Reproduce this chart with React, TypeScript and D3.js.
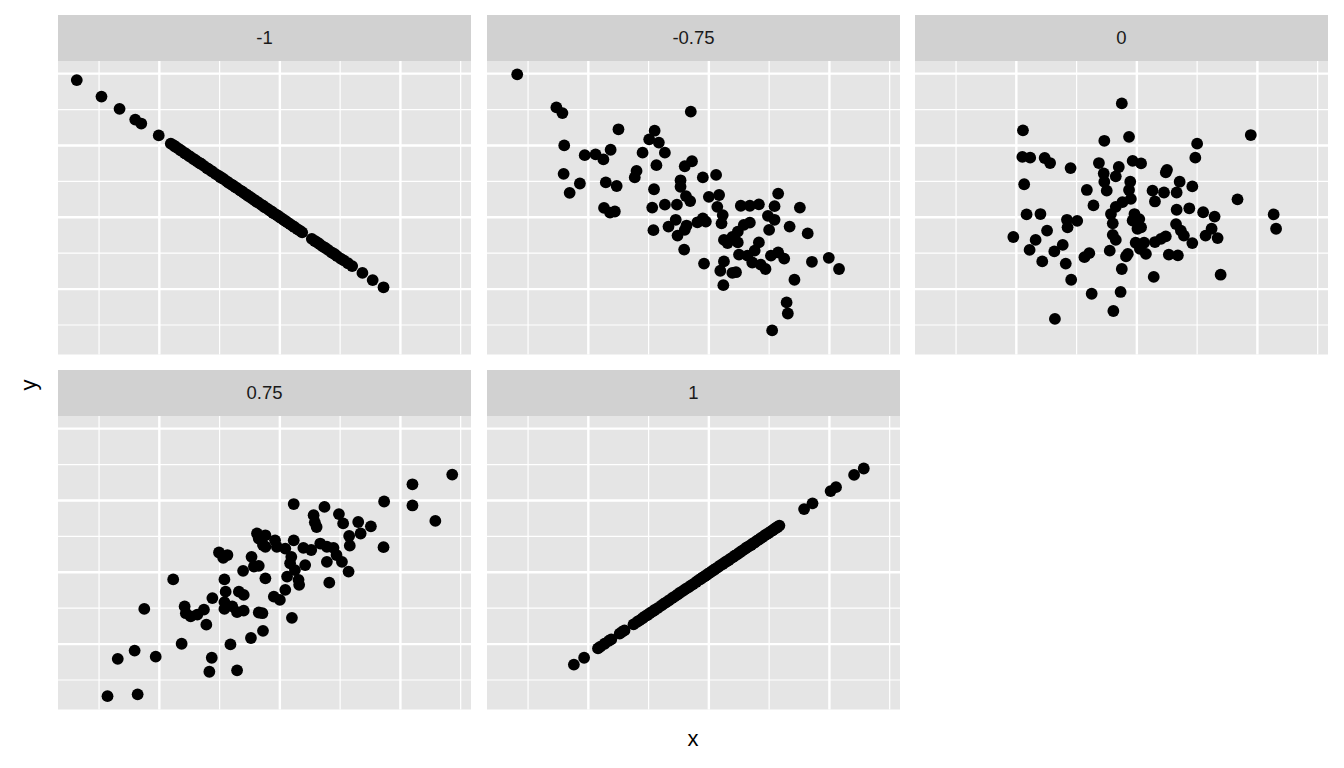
import React from "react";
import * as d3 from "d3";

// Facet labels (correlation of each panel)
const FACET_LABELS = ["-1", "-0.75", "0", "0.75", "1"];

// Grid breaks (no tick labels are shown in the reference)
const X_MAJOR = [-2, 0, 2];
const X_MINOR = [-3, -1, 1, 3];
const Y_MAJOR = [-2, 0, 2, 4];
const Y_MINOR = [-3, -1, 1, 3];

// Panel "-1"
const rhoNeg100: [number, number][] = [
  [-3.37, 3.82], [-2.96, 3.36], [-2.66, 3.02], [-2.4, 2.72], [-2.3, 2.61], [-2.01, 2.28],
  [-1.81, 2.05], [-1.76, 2.0], [-1.74, 1.97], [-1.69, 1.92], [-1.65, 1.87], [-1.63, 1.85],
  [-1.58, 1.79], [-1.55, 1.76], [-1.51, 1.71], [-1.49, 1.69], [-1.44, 1.63], [-1.4, 1.59],
  [-1.37, 1.55], [-1.33, 1.51], [-1.31, 1.49], [-1.26, 1.43], [-1.21, 1.37], [-1.19, 1.35],
  [-1.14, 1.29], [-1.12, 1.27], [-1.07, 1.21], [-1.02, 1.16], [-0.99, 1.12], [-0.97, 1.1],
  [-0.93, 1.06], [-0.88, 1.0], [-0.85, 0.96], [-0.8, 0.91], [-0.78, 0.89], [-0.74, 0.84],
  [-0.71, 0.81], [-0.66, 0.75], [-0.63, 0.72], [-0.6, 0.68], [-0.56, 0.64], [-0.53, 0.6],
  [-0.49, 0.56], [-0.46, 0.52], [-0.42, 0.48], [-0.39, 0.44], [-0.36, 0.41], [-0.31, 0.35],
  [-0.28, 0.32], [-0.25, 0.28], [-0.21, 0.24], [-0.17, 0.19], [-0.14, 0.16], [-0.11, 0.12],
  [-0.07, 0.08], [-0.04, 0.05], [0.0, 0.0], [0.03, -0.03], [0.06, -0.07], [0.1, -0.11],
  [0.13, -0.15], [0.17, -0.19], [0.21, -0.24], [0.24, -0.27], [0.29, -0.33], [0.33, -0.37],
  [0.37, -0.42], [0.53, -0.6], [0.58, -0.66], [0.62, -0.7], [0.66, -0.75], [0.71, -0.81],
  [0.75, -0.85], [0.8, -0.91], [0.86, -0.98], [0.91, -1.03], [0.95, -1.08], [1.01, -1.15],
  [1.06, -1.2], [1.13, -1.28], [1.2, -1.36], [1.37, -1.55], [1.54, -1.75], [1.72, -1.95],
];

// Panel "-0.75"
const rhoNeg075: [number, number][] = [
  [-3.18, 3.98], [-2.53, 3.06], [-2.43, 2.9], [-1.5, 2.45], [-0.3, 2.94], [-2.4, 2.0],
  [-2.06, 1.73], [-1.88, 1.75], [-1.75, 1.61], [-1.63, 1.88], [-0.9, 2.41], [-0.99, 2.17],
  [-0.83, 2.08], [-0.73, 1.8], [-1.1, 1.8], [-0.87, 1.45], [-1.2, 1.29], [-1.23, 1.11],
  [-2.41, 1.21], [-2.14, 0.94], [-2.31, 0.68], [-1.71, 0.97], [-1.53, 0.87], [-0.91, 0.78],
  [-1.74, 0.26], [-1.64, 0.13], [-1.56, 0.16], [-0.94, 0.27], [-0.73, 0.35], [-0.53, 0.35],
  [-0.92, -0.36], [-0.67, -0.26], [-0.55, -0.07], [-0.52, -0.51], [-0.4, -0.35], [-0.37, -0.23],
  [-0.41, -0.9], [-0.4, 1.42], [-0.28, 1.56], [-0.47, 1.03], [-0.47, 0.85], [-0.38, 0.59],
  [-0.31, 0.45], [-0.19, -0.14], [-0.1, 1.11], [0.12, 1.18], [0.0, 0.57], [0.17, 0.62],
  [0.14, 0.29], [0.23, 0.06], [0.21, -0.17], [-0.05, -0.12], [-0.1, -0.03], [0.53, 0.32],
  [0.68, 0.32], [0.83, 0.36], [1.15, 0.66], [1.09, 0.31], [1.51, 0.27], [0.98, 0.04],
  [1.09, -0.07], [1.0, -0.35], [1.34, -0.26], [1.64, -0.45], [0.68, -0.15], [0.58, -0.21],
  [0.48, -0.4], [0.39, -0.55], [0.25, -0.63], [0.31, -0.72], [0.48, -0.7], [0.83, -0.7],
  [0.76, -0.93], [0.5, -1.04], [0.64, -1.07], [1.03, -1.07], [1.15, -0.98], [1.25, -1.15],
  [0.25, -1.23], [-0.08, -1.29], [0.19, -1.49], [0.39, -1.55], [0.45, -1.53], [0.72, -1.26],
  [0.86, -1.32], [0.94, -1.44], [0.24, -1.89], [1.42, -1.74], [1.71, -1.24], [1.99, -1.13],
  [2.16, -1.44], [1.29, -2.37], [1.31, -2.68], [1.05, -3.15],
];

// Panel "0"
const rho000: [number, number][] = [
  [-0.25, 3.17], [-1.89, 2.42], [-0.54, 2.13], [-0.13, 2.24], [-1.9, 1.68], [-1.77, 1.66],
  [-1.53, 1.65], [-1.44, 1.51], [-1.1, 1.37], [-0.63, 1.51], [-0.3, 1.4], [-0.35, 1.14],
  [-0.55, 1.22], [-0.54, 0.99], [-0.5, 0.74], [-1.87, 0.92], [-0.83, 0.76], [-0.72, 0.33],
  [-1.83, 0.08], [-1.6, 0.09], [-1.16, -0.07], [-0.99, -0.1], [-1.15, -0.28], [-1.49, -0.37],
  [-2.05, -0.55], [-1.68, -0.63], [-1.23, -0.77], [-1.37, -0.95], [-1.78, -0.91], [-1.57, -1.23],
  [-1.18, -1.29], [-1.09, -1.74], [-0.79, -1.0], [-0.87, -1.11], [-0.45, -0.93], [-0.4, -0.49],
  [-0.35, -0.63], [-0.43, 0.09], [-0.4, -0.17], [-0.35, 0.29], [-0.25, -1.44], [-0.27, -2.08],
  [-0.75, -2.13], [-0.39, -2.61], [-1.36, -2.83], [-0.18, -1.09], [-0.07, 1.57], [0.07, 1.5],
  [0.5, 1.32], [0.48, 1.25], [0.97, 1.66], [1.0, 2.05], [1.89, 2.29], [-0.11, 0.99],
  [-0.13, 0.76], [-0.1, 0.51], [0.26, 0.74], [0.45, 0.69], [0.3, 0.44], [0.71, 0.99],
  [0.66, 0.69], [0.92, 0.86], [-0.24, 0.42], [-0.04, 0.09], [0.04, -0.05], [-0.07, -0.09],
  [0.07, -0.28], [0.01, -0.32], [0.66, 0.21], [0.87, 0.25], [1.1, 0.14], [1.29, 0.02],
  [0.65, -0.19], [0.73, -0.37], [0.78, -0.51], [1.24, -0.32], [1.14, -0.51], [1.34, -0.58],
  [0.92, -0.72], [-0.02, -0.71], [0.12, -0.71], [0.15, -1.02], [0.05, -0.88], [0.3, -0.69],
  [0.48, -0.53], [0.4, -0.6], [0.53, -1.04], [0.68, -1.06], [-0.15, -1.02], [0.28, -1.66],
  [1.39, -1.6], [1.67, 0.5], [2.27, 0.08], [2.31, -0.32],
];

// Panel "0.75"
const rho075: [number, number][] = [
  [-0.38, 1.08], [-0.35, 0.94], [-0.28, 0.76], [-1.01, 0.55], [-0.87, 0.48], [-0.94, 0.4],
  [-0.47, 0.43], [-0.35, 0.18], [-0.43, 0.16], [-0.61, 0.04], [-0.24, -0.17], [-1.77, -0.2],
  [-0.92, -0.2], [-0.9, -0.54], [-0.68, -0.54], [-0.6, -0.63], [-1.12, -0.72], [-2.25, -1.02],
  [-1.58, -0.95], [-1.56, -1.14], [-1.48, -1.23], [-1.37, -1.18], [-1.26, -1.04], [-0.92, -1.02],
  [-0.79, -0.95], [-0.71, -1.11], [-0.6, -1.07], [-0.35, -1.12], [-0.29, -1.14], [-1.22, -1.46],
  [-0.28, -1.63], [-0.48, -1.83], [-1.63, -1.99], [-0.82, -2.01], [-2.41, -2.18], [-2.69, -2.41],
  [-2.06, -2.35], [-1.13, -2.38], [-1.17, -2.77], [-0.71, -2.73], [-2.86, -3.45], [-2.36, -3.4],
  [2.86, 2.72], [2.2, 2.45], [2.2, 1.86], [1.73, 1.97], [2.58, 1.43], [0.23, 1.9],
  [0.74, 1.82], [0.56, 1.59], [0.58, 1.39], [0.61, 1.26], [0.98, 1.62], [1.05, 1.36],
  [1.3, 1.4], [1.34, 1.08], [1.15, 1.01], [1.51, 1.28], [1.16, 0.74], [1.72, 0.7],
  [-0.24, 1.03], [-0.24, 0.71], [-0.08, 0.89], [-0.05, 0.71], [0.09, 0.66], [0.23, 0.89],
  [0.39, 0.68], [0.52, 0.62], [0.67, 0.8], [0.78, 0.71], [0.89, 0.68], [0.94, 0.48],
  [1.03, 0.29], [0.78, 0.29], [1.14, 0.02], [0.19, 0.43], [0.17, 0.25], [0.25, 0.06],
  [0.42, 0.2], [0.12, -0.12], [0.31, -0.21], [0.32, -0.35], [0.82, -0.29], [0.09, -0.49],
  [-0.1, -0.68], [0.0, -0.77], [0.2, -1.27], [-0.92, -0.83],
];

// Panel "1"
const rhoPos100: [number, number][] = [
  [-2.24, -2.57], [-2.07, -2.38], [-1.84, -2.12], [-1.8, -2.07], [-1.73, -1.99], [-1.66, -1.91],
  [-1.62, -1.87], [-1.48, -1.71], [-1.44, -1.66], [-1.4, -1.62], [-1.25, -1.45], [-1.19, -1.38],
  [-1.15, -1.34], [-1.1, -1.28], [-1.06, -1.23], [-1.02, -1.19], [-0.98, -1.14], [-0.93, -1.09],
  [-0.9, -1.05], [-0.85, -1.0], [-0.79, -0.93], [-0.75, -0.88], [-0.71, -0.84], [-0.66, -0.78],
  [-0.61, -0.72], [-0.57, -0.68], [-0.52, -0.62], [-0.48, -0.57], [-0.43, -0.52], [-0.39, -0.47],
  [-0.34, -0.42], [-0.3, -0.37], [-0.26, -0.33], [-0.21, -0.27], [-0.17, -0.22], [-0.13, -0.18],
  [-0.1, -0.14], [-0.07, -0.11], [-0.04, -0.08], [-0.01, -0.04], [0.02, -0.01], [0.05, 0.03],
  [0.09, 0.07], [0.12, 0.11], [0.16, 0.15], [0.19, 0.19], [0.23, 0.23], [0.27, 0.28],
  [0.3, 0.31], [0.33, 0.34], [0.36, 0.38], [0.4, 0.42], [0.43, 0.46], [0.47, 0.5],
  [0.5, 0.54], [0.53, 0.57], [0.56, 0.61], [0.6, 0.65], [0.63, 0.69], [0.66, 0.72],
  [0.7, 0.76], [0.73, 0.8], [0.76, 0.83], [0.8, 0.88], [0.83, 0.91], [0.86, 0.95],
  [0.89, 0.98], [0.93, 1.03], [0.96, 1.06], [0.99, 1.09], [1.03, 1.14], [1.06, 1.17],
  [1.09, 1.21], [1.12, 1.24], [1.14, 1.26], [1.17, 1.3], [1.58, 1.76], [1.72, 1.92],
  [2.02, 2.26], [2.11, 2.37], [2.41, 2.71], [2.57, 2.89],
];

const PANEL_DATA = [rhoNeg100, rhoNeg075, rho000, rho075, rhoPos100];

// Layout
const W = 1344;
const H = 768;
const COL_X = [58, 487, 915];
const ROW_Y = [15, 370];
const PANEL_W = 413;
const STRIP_H = 46;
const PANEL_H = 293.5;
const FONT = "'Liberation Sans', Arial, Helvetica, sans-serif";

function expanded(vals: number[]): [number, number] {
  const [lo, hi] = d3.extent(vals) as [number, number];
  const pad = (hi - lo) * 0.05;
  return [lo - pad, hi + pad];
}

export default function App() {
  const all = PANEL_DATA.flat();
  const x = d3.scaleLinear().domain(expanded(all.map((d) => d[0]))).range([0, PANEL_W]);
  const y = d3.scaleLinear().domain(expanded(all.map((d) => d[1]))).range([PANEL_H, 0]);

  const panels = PANEL_DATA.map((data, i) => {
    const col = i % 3;
    const row = Math.floor(i / 3);
    const left = COL_X[col];
    const top = ROW_Y[row];
    return (
      <g key={i} transform={`translate(${left},${top})`}>
        <rect x={0} y={0} width={PANEL_W} height={STRIP_H} fill="#D1D1D1" />
        <text
          x={PANEL_W / 2}
          y={STRIP_H / 2}
          dy="0.35em"
          textAnchor="middle"
          fontSize={18.5}
          fontFamily={FONT}
          fill="#1A1A1A"
        >
          {FACET_LABELS[i]}
        </text>
        <g transform={`translate(0,${STRIP_H})`}>
          <rect x={0} y={0} width={PANEL_W} height={PANEL_H} fill="#E5E5E5" />
          {X_MINOR.map((v) => (
            <line key={`xm${v}`} x1={x(v)} x2={x(v)} y1={0} y2={PANEL_H} stroke="#fff" strokeWidth={1.2} />
          ))}
          {Y_MINOR.map((v) => (
            <line key={`ym${v}`} x1={0} x2={PANEL_W} y1={y(v)} y2={y(v)} stroke="#fff" strokeWidth={1.2} />
          ))}
          {X_MAJOR.map((v) => (
            <line key={`xM${v}`} x1={x(v)} x2={x(v)} y1={0} y2={PANEL_H} stroke="#fff" strokeWidth={2.4} />
          ))}
          {Y_MAJOR.map((v) => (
            <line key={`yM${v}`} x1={0} x2={PANEL_W} y1={y(v)} y2={y(v)} stroke="#fff" strokeWidth={2.4} />
          ))}
          {data.map((d, j) => (
            <circle key={j} cx={x(d[0])} cy={y(d[1])} r={5.9} fill="#000" />
          ))}
        </g>
      </g>
    );
  });

  const plotLeft = COL_X[0];
  const plotRight = COL_X[2] + PANEL_W;

  return (
    <svg
      width={W}
      height={H}
      style={{ position: "absolute", left: 0, top: 0, background: "#fff" }}
    >
      <rect width={W} height={H} fill="#fff" />
      {panels}
      <text
        x={(plotLeft + plotRight) / 2}
        y={746}
        textAnchor="middle"
        fontSize={22}
        fontFamily={FONT}
        fill="#000"
      >
        x
      </text>
      <text
        transform={`translate(36,385) rotate(-90)`}
        textAnchor="middle"
        fontSize={22}
        fontFamily={FONT}
        fill="#000"
      >
        y
      </text>
    </svg>
  );
}
